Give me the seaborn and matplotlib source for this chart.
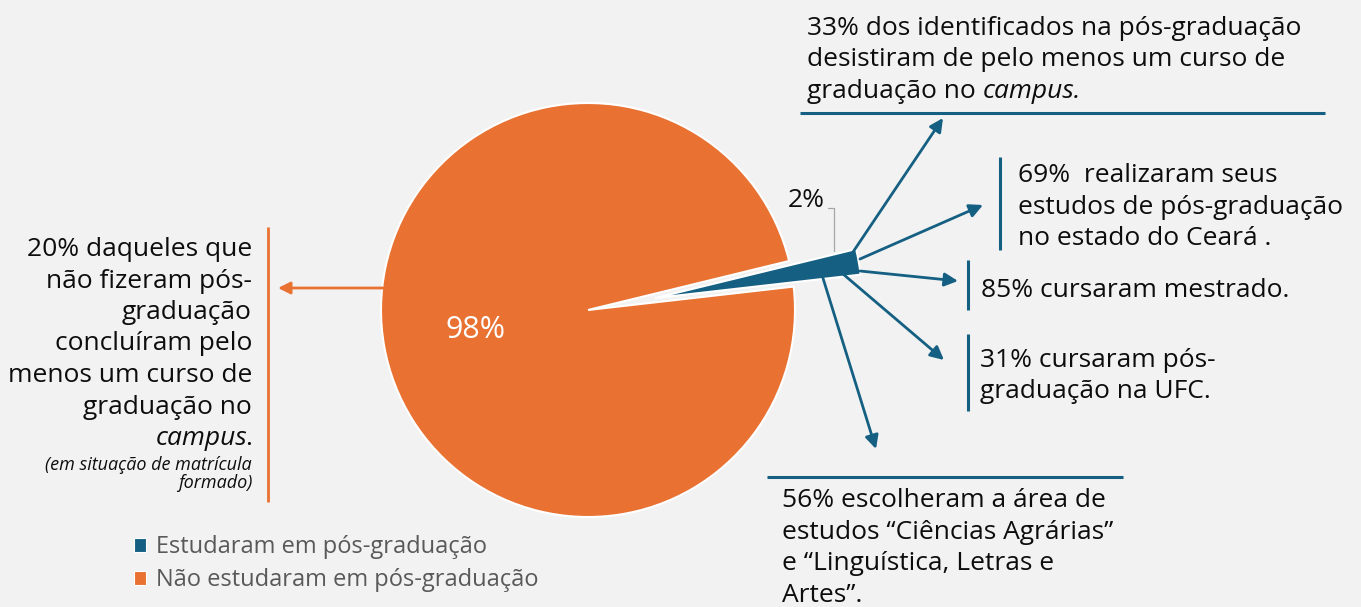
import matplotlib
matplotlib.use("Agg")
import matplotlib.pyplot as plt
import seaborn as sns

# pie data
categories = ["Estudaram em pós-graduação", "Não estudaram em pós-graduação"]
shares = [2, 98]
colors = ["#156082", "#E97132"]

# callout texts: each line is a str or a list of (text, italic) pieces
top_note = ["33% dos identificados na pós-graduação",
            "desistiram de pelo menos um curso de",
            [("graduação no", False), ("campus.", True)]]
ceara_note = ["69%  realizaram seus", "estudos de pós-graduação",
              "no estado do Ceará ."]
mestrado_note = ["85% cursaram mestrado."]
ufc_note = ["31% cursaram pós-", "graduação na UFC."]
area_note = ["56% escolheram a área de", "estudos \u201cCiências Agrárias\u201d",
             "e \u201cLinguística, Letras e", "Artes\u201d."]
left_note = ["20% daqueles que", "não fizeram pós-", "graduação",
             "concluíram pelo", "menos um curso de", "graduação no",
             [("campus", True), (".", False)]]
left_small = ["(em situação de matrícula", "formado)"]

W, H = 1361, 607
BG = "#f2f2f2"
INK = "#0d0d0d"
FS = 19

sns.set_style("white", {"axes.facecolor": BG, "figure.facecolor": BG})
plt.rcParams["font.family"] = ["Open Sans", "DejaVu Sans"]

fig = plt.figure(figsize=(W / 100, H / 100), dpi=100)
ax = fig.add_axes([0, 0, 1, 1])


def Y(y):
    return H - y


wedges, texts, autotexts = ax.pie(
    shares, colors=colors, explode=[68, 0], startangle=6.5,
    radius=207, center=(588, Y(310)), autopct="%1.0f%%", pctdistance=0.55,
    wedgeprops=dict(edgecolor="white", linewidth=1.5),
    textprops=dict(fontsize=22, color="white"))
ax.set_xlim(0, W)
ax.set_ylim(0, H)
ax.set_aspect("equal")
ax.axis("off")

# move the small label outside with a leader line
autotexts[0].set_position((806, Y(207)))
autotexts[0].set_color(INK)
autotexts[0].set_fontsize(FS)
autotexts[0].set_va("baseline")
ax.plot([828, 834, 834], [Y(208), Y(208), Y(251)], color="#a6a6a6", lw=0.9)

renderer = fig.canvas.get_renderer()


def write_line(x, y, line, ha="left", size=FS, italic=False):
    pieces = [(line, italic)] if isinstance(line, str) else line
    if ha == "right":
        pieces = pieces[::-1]
    for k, (txt, it) in enumerate(pieces):
        t = ax.text(x, Y(y), txt, ha=ha, va="baseline", fontsize=size,
                    color=INK, style="italic" if it else "normal")
        bb = t.get_window_extent(renderer)
        if k + 1 < len(pieces):
            punct = txt[-1] == "." or pieces[k + 1][0] == "."
            gap = -2 if punct else 0.36 * size
        else:
            gap = 0
        if ha == "left":
            x = bb.x1 + gap
        else:
            x = bb.x0 - gap
    return x


def write_block(x, y0, lines, pitch=31.5, **kw):
    for i, line in enumerate(lines):
        write_line(x, y0 + i * pitch, line, **kw)


write_block(807, 35, top_note)
write_block(1018, 182, ceara_note)
write_block(981, 297, mestrado_note)
write_block(980, 367, ufc_note)
write_block(782, 507, area_note, pitch=31.7)
write_block(252, 256, left_note, ha="right")
write_block(252, 470, left_small, pitch=18.5, ha="right", size=13,
            italic=True)

# rules beside the notes
rule = dict(color=colors[0], lw=2.2, solid_capstyle="butt")
ax.plot([800, 1325], [Y(113), Y(113)], **rule)
ax.plot([1000, 1000], [Y(157), Y(250)], **rule)
ax.plot([968, 968], [Y(260), Y(310)], **rule)
ax.plot([968, 968], [Y(334), Y(411)], **rule)
ax.plot([767, 1123], [Y(477), Y(477)], **rule)
ax.plot([268, 268], [Y(227), Y(502)], color=colors[1], lw=2,
        solid_capstyle="butt")

# arrows from the exploded slice
arrows = [((853, 252), (943, 118)), ((860, 259), (983, 205)),
          ((860, 271), (958, 281)), ((843, 274), (944, 360)),
          ((822, 275), (876, 449))]
for (x0, y0), (x1, y1) in arrows:
    ax.annotate("", xy=(x1, Y(y1)), xytext=(x0, Y(y0)),
                arrowprops=dict(arrowstyle="-|>", color=colors[0], lw=2,
                                mutation_scale=20, shrinkA=0, shrinkB=0))
ax.annotate("", xy=(278, Y(288)), xytext=(383, Y(288)),
            arrowprops=dict(arrowstyle="-|>", color=colors[1], lw=2,
                            mutation_scale=18, shrinkA=0, shrinkB=0))

leg = ax.legend(wedges, categories, loc="upper left",
                bbox_to_anchor=(134, Y(535)), bbox_transform=ax.transData,
                frameon=False, fontsize=17, labelcolor="#595959",
                handlelength=0.52, handleheight=0.52, handletextpad=0.42,
                labelspacing=0.4, borderpad=0, borderaxespad=0)
for h in leg.legend_handles:
    h.set_edgecolor("white")
    h.set_linewidth(0.8)

fig.savefig("out.png", dpi=100, facecolor=BG)
